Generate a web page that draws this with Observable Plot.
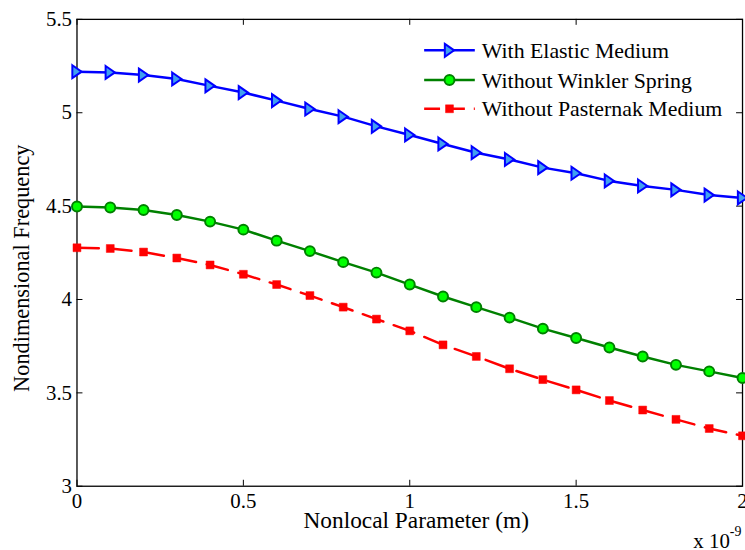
<!DOCTYPE html>
<html>
<head>
<meta charset="utf-8">
<script src="https://cdn.jsdelivr.net/npm/d3@7"></script>
<script src="https://cdn.jsdelivr.net/npm/@observablehq/plot@0.6"></script>
<style>
  html, body { margin: 0; padding: 0; background: #fff; overflow: hidden; }
  #chart { width: 745px; height: 550px; overflow: hidden; }
  #chart svg { display: block; }
</style>
</head>
<body>
<div id="chart"></div>
<script>
// Nonlocal parameter (units of 1e-9 m)
const nonlocal = [0, 0.1, 0.2, 0.3, 0.4, 0.5, 0.6, 0.7, 0.8, 0.9, 1.0,
                  1.1, 1.2, 1.3, 1.4, 1.5, 1.6, 1.7, 1.8, 1.9, 2.0];

// Nondimensional frequency for each foundation case
const withElastic = [5.220, 5.216, 5.202, 5.181, 5.144, 5.108, 5.065, 5.020, 4.979, 4.927, 4.881,
                     4.833, 4.786, 4.750, 4.706, 4.676, 4.635, 4.608, 4.587, 4.559, 4.544];
const withoutWinkler = [4.498, 4.493, 4.479, 4.452, 4.417, 4.374, 4.315, 4.259, 4.200, 4.144, 4.080,
                        4.016, 3.959, 3.903, 3.844, 3.794, 3.743, 3.695, 3.650, 3.615, 3.580];
const withoutPasternak = [4.277, 4.273, 4.254, 4.222, 4.185, 4.135, 4.080, 4.021, 3.959, 3.895, 3.832,
                          3.757, 3.695, 3.629, 3.571, 3.516, 3.459, 3.408, 3.358, 3.309, 3.270];

const seriesNames = ["With Elastic Medium", "Without Winkler Spring", "Without Pasternak Medium"];

// Axis ticks
const xTicks = [0, 0.5, 1, 1.5, 2];
const xTickLabels = ["0", "0.5", "1", "1.5", "2"];
const yTicks = [3, 3.5, 4, 4.5, 5, 5.5];
const yTickLabels = ["3", "3.5", "4", "4.5", "5", "5.5"];

const xLabel = "Nonlocal Parameter (m)";
const yLabel = "Nondimensional Frequency";

// Right-pointing triangle marker
const triangleRight = {
  draw(context, size) {
    const r = Math.sqrt(size / Math.PI);
    context.moveTo(-0.72 * r, -r);
    context.lineTo(0.72 * r, 0);
    context.lineTo(-0.72 * r, r);
    context.closePath();
  }
};

const styles = [
  {line: "#0000ff", dash: null, symbol: triangleRight, r: 6.5, fill: "#40a0f0", stroke: "#0000ff", sw: 2},
  {line: "#008000", dash: null, symbol: "circle", r: 5, fill: "#00ff00", stroke: "#008000", sw: 2},
  {line: "#ff0000", dash: "22,11", symbol: "square", r: 4.5, fill: "#ff0000", stroke: "#ff0000", sw: 0.5}
];

const values = [withElastic, withoutWinkler, withoutPasternak];
const data = values.map(v => nonlocal.map((x, i) => ({x, y: v[i]})));

const W = 750, H = 550;
const M = {top: 19, right: 3, bottom: 61, left: 77};
const innerW = W - M.left - M.right;
const innerH = H - M.top - M.bottom;
const tickLen = 6;
const font = "'Liberation Serif', 'Times New Roman', serif";

const seriesMarks = data.flatMap((d, k) => {
  const s = styles[k];
  return [
    Plot.line(d, {x: "x", y: "y", stroke: s.line, strokeWidth: 2.5, strokeDasharray: s.dash}),
    Plot.dot(d, {x: "x", y: "y", symbol: s.symbol, r: s.r, fill: s.fill, stroke: s.stroke, strokeWidth: s.sw})
  ];
});

const chart = Plot.plot({
  width: W,
  height: H,
  marginTop: M.top,
  marginRight: M.right,
  marginBottom: M.bottom,
  marginLeft: M.left,
  style: {fontFamily: font, fontSize: "21px", background: "white", color: "black", overflow: "visible"},
  x: {domain: [0, 2]},
  y: {domain: [3, 5.5]},
  marks: [
    Plot.frame({stroke: "black", strokeWidth: 1.3}),
    Plot.tickX(xTicks, {x: d => d, stroke: "black", strokeWidth: 1, insetTop: innerH - tickLen}),
    Plot.tickX(xTicks, {x: d => d, stroke: "black", strokeWidth: 1, insetBottom: innerH - tickLen}),
    Plot.tickY(yTicks, {y: d => d, stroke: "black", strokeWidth: 1, insetRight: innerW - tickLen}),
    Plot.tickY(yTicks, {y: d => d, stroke: "black", strokeWidth: 1, insetLeft: innerW - tickLen}),
    Plot.axisX({ticks: xTicks, tickSize: 0, tickPadding: 7, label: null,
                tickFormat: d => xTickLabels[xTicks.indexOf(d)]}),
    Plot.axisY({ticks: yTicks, tickSize: 0, tickPadding: 5, label: null,
                tickFormat: d => yTickLabels[yTicks.indexOf(d)]}),
    ...seriesMarks
  ]
});

const svg = d3.select(chart);

// Axis titles
svg.append("text")
  .attr("x", 419).attr("y", 532)
  .attr("text-anchor", "middle")
  .style("font-family", font).style("font-size", "23.5px").attr("fill", "black")
  .text(xLabel);

svg.append("text")
  .attr("transform", "translate(29,270) rotate(-90)")
  .attr("text-anchor", "middle")
  .style("font-family", font).style("font-size", "22.5px").attr("fill", "black")
  .text(yLabel);

// Scale factor note for the x axis
const expo = svg.append("text")
  .attr("x", 698).attr("y", 552)
  .attr("text-anchor", "start")
  .style("font-family", font).style("font-size", "21px").attr("fill", "black");
expo.append("tspan").text("x 10");
expo.append("tspan").attr("dy", -12).style("font-size", "14px").text("-9");

// Legend
const legend = svg.append("g").attr("text-anchor", "start");
const rowY = [50.7, 80.5, 109.5];
seriesNames.forEach((name, k) => {
  const s = styles[k];
  const y = rowY[k];
  legend.append("line")
    .attr("x1", 427).attr("x2", 478).attr("y1", y).attr("y2", y)
    .attr("stroke", s.line).attr("stroke-width", 2.5)
    .attr("stroke-dasharray", s.dash ? "16,9" : null);
  const sym = typeof s.symbol === "string"
    ? (s.symbol === "circle" ? d3.symbolCircle : d3.symbolSquare)
    : s.symbol;
  legend.append("path")
    .attr("transform", `translate(452.5,${y})`)
    .attr("d", d3.symbol(sym, s.r * s.r * Math.PI)())
    .attr("fill", s.fill).attr("stroke", s.stroke).attr("stroke-width", s.sw);
  legend.append("text")
    .attr("x", 485).attr("y", y + 7.6)
    .attr("text-anchor", "start")
    .style("font-family", font).style("font-size", "22px").attr("fill", "black")
    .text(name);
});

document.getElementById("chart").appendChild(chart);
</script>
</body>
</html>
